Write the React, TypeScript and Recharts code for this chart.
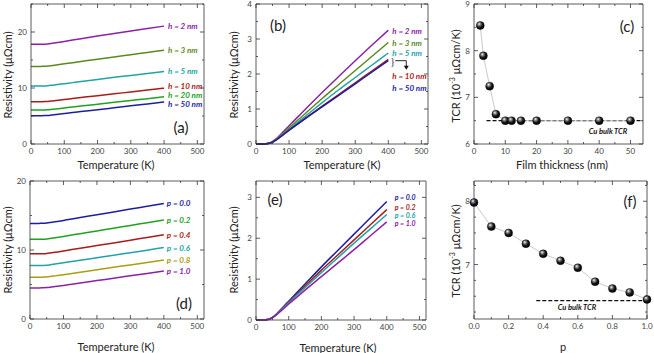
import React from 'react';
import { LineChart, ComposedChart, Line, XAxis, YAxis } from 'recharts';

const FONT = "Lato, 'Open Sans', 'DejaVu Sans', sans-serif";

// ---------- data ----------
// shared temperature grid (K)
const temps = [0, 20, 30, 40, 50, 60, 75, 100, 125, 150, 200, 250, 300, 350, 400];

// panel (a): total resistivity vs temperature for film thickness h
const rhoA_h2 = [17.8, 17.8, 17.81, 17.83, 17.87, 17.94, 18.08, 18.32, 18.56, 18.8, 19.27, 19.73, 20.18, 20.62, 21.05];
const rhoA_h3 = [13.85, 13.85, 13.86, 13.87, 13.91, 13.98, 14.1, 14.31, 14.52, 14.73, 15.15, 15.55, 15.95, 16.35, 16.75];
const rhoA_h5 = [10.35, 10.35, 10.36, 10.37, 10.41, 10.47, 10.58, 10.77, 10.96, 11.15, 11.53, 11.9, 12.25, 12.6, 12.95];
const rhoA_h10 = [7.55, 7.55, 7.56, 7.57, 7.61, 7.66, 7.77, 7.95, 8.12, 8.29, 8.63, 8.96, 9.3, 9.63, 9.97];
const rhoA_h20 = [6.05, 6.05, 6.06, 6.07, 6.1, 6.16, 6.26, 6.44, 6.61, 6.78, 7.11, 7.44, 7.77, 8.1, 8.45];
const rhoA_h50 = [5.05, 5.05, 5.06, 5.07, 5.1, 5.16, 5.27, 5.45, 5.63, 5.8, 6.13, 6.47, 6.81, 7.15, 7.5];

// panel (b): phonon part of resistivity
const rhoB_h2 = [0, 0, 0.006, 0.025, 0.07, 0.14, 0.28, 0.52, 0.76, 1.0, 1.47, 1.93, 2.38, 2.82, 3.25];
const rhoB_h3 = [0, 0, 0.006, 0.023, 0.063, 0.125, 0.25, 0.46, 0.67, 0.88, 1.3, 1.7, 2.1, 2.5, 2.9];
const rhoB_h5 = [0, 0, 0.005, 0.021, 0.058, 0.115, 0.23, 0.42, 0.61, 0.8, 1.18, 1.55, 1.9, 2.25, 2.6];
const rhoB_h10 = [0, 0, 0.005, 0.02, 0.056, 0.112, 0.215, 0.4, 0.57, 0.74, 1.08, 1.41, 1.75, 2.08, 2.42];
const rhoB_h50 = [0, 0, 0.005, 0.02, 0.055, 0.11, 0.21, 0.39, 0.56, 0.73, 1.06, 1.39, 1.72, 2.05, 2.38];

// panel (c): TCR vs film thickness
const thickness = [2, 3, 5, 7, 10, 12, 15, 20, 30, 40, 50];
const tcrThickness = [8.54, 7.89, 7.24, 6.64, 6.5, 6.5, 6.5, 6.5, 6.5, 6.5, 6.5];
const bulkRangeC = [4, 54];
const bulkTcrC = [6.5, 6.5];

// panel (d): total resistivity vs temperature for specularity p
const rhoD_p00 = [13.85, 13.85, 13.86, 13.87, 13.91, 13.97, 14.08, 14.29, 14.5, 14.7, 15.12, 15.52, 15.93, 16.34, 16.75];
const rhoD_p02 = [11.55, 11.55, 11.56, 11.57, 11.61, 11.67, 11.78, 11.97, 12.17, 12.37, 12.77, 13.16, 13.56, 13.95, 14.35];
const rhoD_p04 = [9.45, 9.45, 9.46, 9.47, 9.51, 9.57, 9.67, 9.86, 10.06, 10.25, 10.64, 11.03, 11.42, 11.81, 12.2];
const rhoD_p06 = [7.75, 7.75, 7.76, 7.77, 7.8, 7.86, 7.96, 8.14, 8.33, 8.51, 8.88, 9.24, 9.61, 9.98, 10.35];
const rhoD_p08 = [6.05, 6.05, 6.06, 6.07, 6.1, 6.15, 6.25, 6.42, 6.6, 6.78, 7.13, 7.49, 7.84, 8.2, 8.55];
const rhoD_p10 = [4.5, 4.5, 4.51, 4.52, 4.55, 4.6, 4.7, 4.87, 5.05, 5.22, 5.57, 5.91, 6.26, 6.61, 6.95];

// panel (e): phonon part vs p
const rhoE_p00 = [0, 0, 0.006, 0.023, 0.063, 0.125, 0.25, 0.46, 0.67, 0.88, 1.3, 1.7, 2.1, 2.5, 2.9];
const rhoE_p02 = [0, 0, 0.005, 0.022, 0.06, 0.12, 0.24, 0.44, 0.63, 0.83, 1.22, 1.59, 1.96, 2.33, 2.7];
const rhoE_p06 = [0, 0, 0.005, 0.021, 0.058, 0.115, 0.23, 0.42, 0.61, 0.79, 1.16, 1.52, 1.88, 2.23, 2.58];
const rhoE_p10 = [0, 0, 0.005, 0.02, 0.055, 0.11, 0.21, 0.39, 0.56, 0.73, 1.06, 1.39, 1.72, 2.06, 2.4];

// panel (f): TCR vs p
const pValues = [0, 0.1, 0.2, 0.3, 0.4, 0.5, 0.6, 0.7, 0.8, 0.9, 1.0];
const tcrP = [7.98, 7.6, 7.5, 7.33, 7.17, 7.06, 6.95, 6.73, 6.62, 6.56, 6.45];
const bulkRangeF = [0.36, 1.0];
const bulkTcrF = [6.43, 6.43];

// ticks
const tempTicks = [0, 50, 100, 150, 200, 250, 300, 350, 400, 450, 500];
const tempMajors = [0, 100, 200, 300, 400, 500];
const yTicksA = [0, 5, 10, 15, 20, 25];
const yMajorsA = [0, 10, 20];
const yTicksB = [0, 0.5, 1, 1.5, 2, 2.5, 3, 3.5, 4];
const yMajorsB = [0, 1, 2, 3, 4];
const xTicksC = [0, 5, 10, 15, 20, 25, 30, 35, 40, 45, 50];
const xMajorsC = [0, 10, 20, 30, 40, 50];
const yTicksC = [6, 6.5, 7, 7.5, 8, 8.5, 9];
const yMajorsC = [6, 7, 8, 9];
const yTicksD = [0, 5, 10, 15, 20];
const yMajorsD = [0, 10, 20];
const yTicksE = [0, 0.5, 1, 1.5, 2, 2.5, 3];
const yMajorsE = [0, 1, 2, 3];
const xTicksF = [0, 0.1, 0.2, 0.3, 0.4, 0.5, 0.6, 0.7, 0.8, 0.9, 1.0];
const xMajorsF = [0, 0.2, 0.4, 0.6, 0.8, 1.0];
const yTicksF = [6.25, 6.5, 6.75, 7, 7.25, 7.5, 7.75, 8, 8.25];
const yMajorsF = [7, 8];

// ---------- styling ----------
const C = {
  purple: '#8a22a6',
  olive: '#5c8a1e',
  teal: '#22a3a8',
  red: '#a81c1c',
  green: '#22a022',
  navy: '#1e1e9e',
  yellow: '#a8a010',
};

const LW = 28, RW = 6, TH = 4, BH = 20;

type Box = { x0: number; x1: number; y0: number; y1: number };
const boxA: Box = { x0: 31, x1: 204, y0: 4, y1: 144 };
const boxB: Box = { x0: 256, x1: 428, y0: 4, y1: 144 };
const boxC: Box = { x0: 474, x1: 643, y0: 4, y1: 144 };
const boxD: Box = { x0: 30, x1: 204, y0: 181, y1: 319 };
const boxE: Box = { x0: 256, x1: 426, y0: 181, y1: 320 };
const boxF: Box = { x0: 474, x1: 647, y0: 181, y1: 319 };

function chartPos(b: Box) {
  return {
    style: { position: 'absolute' as const, left: b.x0 - LW, top: b.y0 - TH },
    width: LW + (b.x1 - b.x0) + RW,
    height: TH + (b.y1 - b.y0) + BH,
  };
}

type Side = 'bottom' | 'top' | 'left' | 'right';
function makeTick(side: Side, majors: number[], fmt: (v: number) => string) {
  return (props: any) => {
    const { x, y, payload } = props;
    const v = Number(payload.value);
    const major = majors.some((m) => Math.abs(m - v) < 1e-6);
    const len = major ? 4 : 2;
    const st = { stroke: '#333', strokeWidth: 0.8 };
    const ts = { fontSize: 8, fill: '#444', fontFamily: FONT };
    let line: any = null;
    let label: any = null;
    if (side === 'bottom') {
      line = <line x1={x} y1={y} x2={x} y2={y - len} {...st} />;
      if (major) label = <text x={x} y={y + 7} textAnchor="middle" dominantBaseline="central" {...ts}>{fmt(v)}</text>;
    } else if (side === 'top') {
      line = <line x1={x} y1={y} x2={x} y2={y + len} {...st} />;
    } else if (side === 'left') {
      line = <line x1={x} y1={y} x2={x + len} y2={y} {...st} />;
      if (major) label = <text x={x - 4} y={y} textAnchor="end" dominantBaseline="central" {...ts}>{fmt(v)}</text>;
    } else {
      line = <line x1={x} y1={y} x2={x - len} y2={y} {...st} />;
    }
    return <g>{line}{label}</g>;
  };
}

type AxOpts = {
  xKey: string; xDomain: number[]; xTicks: number[]; xMajors: number[]; xFmt: (v: number) => string;
  yDomain: number[]; yTicks: number[]; yMajors: number[]; yFmt: (v: number) => string;
};
function frameAxes(o: AxOpts) {
  const axisLine = { stroke: '#333', strokeWidth: 0.8 };
  const common = { tickLine: false, tickSize: 0, tickMargin: 0, interval: 0 as const, axisLine };
  return [
    <XAxis key="xb" type="number" dataKey={o.xKey} domain={o.xDomain} ticks={o.xTicks} height={BH} orientation="bottom" tick={makeTick('bottom', o.xMajors, o.xFmt)} {...common} />,
    <XAxis key="xt" xAxisId="t" type="number" dataKey={o.xKey} domain={o.xDomain} ticks={o.xTicks} height={TH} orientation="top" allowDataOverflow tick={makeTick('top', o.xMajors, o.xFmt)} {...common} />,
    <YAxis key="yl" type="number" domain={o.yDomain} ticks={o.yTicks} width={LW} orientation="left" tick={makeTick('left', o.yMajors, o.yFmt)} {...common} />,
    <YAxis key="yr" yAxisId="r" type="number" domain={o.yDomain} ticks={o.yTicks} width={RW} orientation="right" allowDataOverflow tick={makeTick('right', o.yMajors, o.yFmt)} {...common} />,
  ];
}

const intFmt = (v: number) => String(Math.round(v));
const oneDec = (v: number) => v.toFixed(1);

function endLabel(text: string, color: string, n: number, dx: number, dy: number, size = 8, extra?: 'brace') {
  return (p: any) => {
    if (p.index !== n - 1) return <g key={`d${p.index}`} />;
    const x = p.cx, y = p.cy;
    return (
      <g key={`d${p.index}`}>
        <text x={x + dx} y={y + dy} fill={color} fontSize={size} fontWeight="bold" fontStyle="italic" dominantBaseline="central" fontFamily={FONT}>{text}</text>
        {extra === 'brace' ? (
          <g>
            <text x={x + 3} y={y + 1} fontSize={9} fill="#111" dominantBaseline="central" fontFamily={FONT}>{'}'}</text>
            <polyline points={`${x + 7},${y} ${x + 18},${y} ${x + 18},${y + 6}`} fill="none" stroke="#111" strokeWidth={0.9} />
            <polygon points={`${x + 15.5},${y + 5} ${x + 20.5},${y + 5} ${x + 18},${y + 9}`} fill="#111" />
          </g>
        ) : null}
      </g>
    );
  };
}

function rows(xs: number[], series: Record<string, number[]>, xKey = 'T') {
  return xs.map((x, i) => {
    const r: any = { [xKey]: x };
    for (const k of Object.keys(series)) r[k] = series[k][i];
    return r;
  });
}

const dataA = rows(temps, { h2: rhoA_h2, h3: rhoA_h3, h5: rhoA_h5, h10: rhoA_h10, h20: rhoA_h20, h50: rhoA_h50 });
const dataB = rows(temps, { h2: rhoB_h2, h3: rhoB_h3, h5: rhoB_h5, h10: rhoB_h10, h50: rhoB_h50 });
const dataC = rows(thickness, { tcr: tcrThickness }, 'x');
const bulkC = rows(bulkRangeC, { bulk: bulkTcrC }, 'x');
const dataD = rows(temps, { p00: rhoD_p00, p02: rhoD_p02, p04: rhoD_p04, p06: rhoD_p06, p08: rhoD_p08, p10: rhoD_p10 });
const dataE = rows(temps, { p00: rhoE_p00, p02: rhoE_p02, p06: rhoE_p06, p10: rhoE_p10 });
const dataF = rows(pValues, { tcr: tcrP }, 'x');
const bulkF = rows(bulkRangeF, { bulk: bulkTcrF }, 'x');

const seriesA = [
  { key: 'h2', label: 'h = 2 nm', color: C.purple, dy: 0 },
  { key: 'h3', label: 'h = 3 nm', color: C.olive, dy: 0 },
  { key: 'h5', label: 'h = 5 nm', color: C.teal, dy: 0 },
  { key: 'h10', label: 'h = 10 nm', color: C.red, dy: -2 },
  { key: 'h20', label: 'h = 20 nm', color: C.green, dy: -1.5 },
  { key: 'h50', label: 'h = 50 nm', color: C.navy, dy: 2 },
];
const seriesB = [
  { key: 'h2', label: 'h = 2 nm', color: C.purple, dy: 0.5 },
  { key: 'h3', label: 'h = 3 nm', color: C.olive, dy: 0.5 },
  { key: 'h5', label: 'h = 5 nm', color: C.teal, dy: -0.5 },
  { key: 'h10', label: 'h = 10 nm', color: C.red, dy: 16.5 },
  { key: 'h50', label: 'h = 50 nm', color: C.navy, dy: 27 },
];
const seriesD = [
  { key: 'p00', label: 'p = 0.0', color: C.navy, dy: 0 },
  { key: 'p02', label: 'p = 0.2', color: C.green, dy: 0 },
  { key: 'p04', label: 'p = 0.4', color: C.red, dy: 0 },
  { key: 'p06', label: 'p = 0.6', color: C.teal, dy: 0 },
  { key: 'p08', label: 'p = 0.8', color: C.yellow, dy: 0 },
  { key: 'p10', label: 'p = 1.0', color: C.purple, dy: 0 },
];
const seriesE = [
  { key: 'p00', label: 'p = 0.0', color: C.navy, dy: -4.5 },
  { key: 'p02', label: 'p = 0.2', color: C.red, dy: -3 },
  { key: 'p06', label: 'p = 0.6', color: C.teal, dy: 0.5 },
  { key: 'p10', label: 'p = 1.0', color: C.purple, dy: 1.5 },
];

const tempAxis = { xKey: 'T', xDomain: [0, 520], xTicks: tempTicks, xMajors: tempMajors, xFmt: intFmt };

const Sphere = (p: any) => (
  <circle key={`s${p.index}`} cx={p.cx} cy={p.cy} r={4} fill="url(#sphereGrad)" stroke="#000" strokeWidth={0.4} />
);

function AxisTitle({ x, y, rotate, children, size = 11 }: any) {
  return (
    <div
      style={{
        position: 'absolute', left: x, top: y, transform: `translate(-50%, -50%)${rotate ? ' rotate(-90deg)' : ''}`,
        whiteSpace: 'nowrap', fontFamily: FONT, fontSize: size, color: '#222', lineHeight: 1,
      }}
    >
      {children}
    </div>
  );
}

const tcrTitle = (
  <span>TCR (10<sup style={{ fontSize: 7, lineHeight: 0 }}>-3</sup> μΩcm/K)</span>
);

export default function App() {
  const margin = { top: 0, right: 0, bottom: 0, left: 0 };
  const pa = chartPos(boxA), pb = chartPos(boxB), pc = chartPos(boxC);
  const pd = chartPos(boxD), pe = chartPos(boxE), pf = chartPos(boxF);
  return (
    <div style={{ position: 'absolute', left: 0, top: 0, width: 654, height: 353, background: '#fff', overflow: 'hidden' }}>
      <svg width={0} height={0} style={{ position: 'absolute' }}>
        <defs>
          <radialGradient id="sphereGrad" cx="0.4" cy="0.38" r="0.62" fx="0.36" fy="0.3">
            <stop offset="0" stopColor="#ffffff" />
            <stop offset="0.22" stopColor="#9a9a9a" />
            <stop offset="0.6" stopColor="#1a1a1a" />
            <stop offset="1" stopColor="#000000" />
          </radialGradient>
        </defs>
      </svg>

      {/* (a) */}
      <div style={pa.style}>
        <LineChart width={pa.width} height={pa.height} data={dataA} margin={margin}>
          {frameAxes({ ...tempAxis, yDomain: [0, 25], yTicks: yTicksA, yMajors: yMajorsA, yFmt: intFmt })}
          {seriesA.map((s) => (
            <Line key={s.key} type="monotone" dataKey={s.key} stroke={s.color} strokeWidth={1.5}
              dot={endLabel(s.label, s.color, dataA.length, 4, s.dy)} activeDot={false} isAnimationActive={false} />
          ))}
        </LineChart>
      </div>

      {/* (b) */}
      <div style={pb.style}>
        <LineChart width={pb.width} height={pb.height} data={dataB} margin={margin}>
          {frameAxes({ ...tempAxis, yDomain: [0, 4], yTicks: yTicksB, yMajors: yMajorsB, yFmt: intFmt })}
          {seriesB.map((s) => (
            <Line key={s.key} type="monotone" dataKey={s.key} stroke={s.color} strokeWidth={1.5}
              dot={endLabel(s.label, s.color, dataB.length, 4, s.dy, 8, s.key === 'h50' ? 'brace' : undefined)}
              activeDot={false} isAnimationActive={false} />
          ))}
        </LineChart>
      </div>

      {/* (c) */}
      <div style={pc.style}>
        <ComposedChart width={pc.width} height={pc.height} data={dataC} margin={margin}>
          {frameAxes({ xKey: 'x', xDomain: [0, 54], xTicks: xTicksC, xMajors: xMajorsC, xFmt: intFmt, yDomain: [6, 9], yTicks: yTicksC, yMajors: yMajorsC, yFmt: intFmt })}
          <Line data={bulkC} type="linear" dataKey="bulk" stroke="#111" strokeWidth={1.3} strokeDasharray="4 2"
            dot={(p: any) => p.index === 1 ? (
              <text key="cb" x={p.cx - 35} y={p.cy + 11} textAnchor="middle" dominantBaseline="central" fontSize={7.5} fontWeight="bold" fontStyle="italic" fill="#111" fontFamily={FONT}>Cu bulk TCR</text>
            ) : <g key={`g${p.index}`} />}
            activeDot={false} isAnimationActive={false} />
          <Line type="linear" dataKey="tcr" stroke="#bbb" strokeWidth={0.8} dot={Sphere} activeDot={false} isAnimationActive={false} />
        </ComposedChart>
      </div>

      {/* (d) */}
      <div style={pd.style}>
        <LineChart width={pd.width} height={pd.height} data={dataD} margin={margin}>
          {frameAxes({ ...tempAxis, yDomain: [0, 20], yTicks: yTicksD, yMajors: yMajorsD, yFmt: intFmt })}
          {seriesD.map((s) => (
            <Line key={s.key} type="monotone" dataKey={s.key} stroke={s.color} strokeWidth={1.5}
              dot={endLabel(s.label, s.color, dataD.length, 3, s.dy)} activeDot={false} isAnimationActive={false} />
          ))}
        </LineChart>
      </div>

      {/* (e) */}
      <div style={pe.style}>
        <LineChart width={pe.width} height={pe.height} data={dataE} margin={margin}>
          {frameAxes({ ...tempAxis, yDomain: [0, 3.4], yTicks: yTicksE, yMajors: yMajorsE, yFmt: intFmt })}
          {seriesE.map((s) => (
            <Line key={s.key} type="monotone" dataKey={s.key} stroke={s.color} strokeWidth={1.5}
              dot={endLabel(s.label, s.color, dataE.length, 8, s.dy, 7)} activeDot={false} isAnimationActive={false} />
          ))}
        </LineChart>
      </div>

      {/* (f) */}
      <div style={pf.style}>
        <ComposedChart width={pf.width} height={pf.height} data={dataF} margin={margin}>
          {frameAxes({ xKey: 'x', xDomain: [0, 1], xTicks: xTicksF, xMajors: xMajorsF, xFmt: oneDec, yDomain: [6.14, 8.32], yTicks: yTicksF, yMajors: yMajorsF, yFmt: intFmt })}
          <Line data={bulkF} type="linear" dataKey="bulk" stroke="#111" strokeWidth={1.3} strokeDasharray="4 2"
            dot={(p: any) => p.index === 1 ? (
              <text key="fb" x={p.cx - 70} y={p.cy + 7} textAnchor="middle" dominantBaseline="central" fontSize={7.5} fontWeight="bold" fontStyle="italic" fill="#111" fontFamily={FONT}>Cu bulk TCR</text>
            ) : <g key={`g${p.index}`} />}
            activeDot={false} isAnimationActive={false} />
          <Line type="linear" dataKey="tcr" stroke="#bbb" strokeWidth={0.8} dot={Sphere} activeDot={false} isAnimationActive={false} />
        </ComposedChart>
      </div>

      {/* axis titles */}
      <AxisTitle x={7} y={75} rotate>Resistivity (μΩcm)</AxisTitle>
      <AxisTitle x={116} y={164}>Temperature (K)</AxisTitle>
      <AxisTitle x={233} y={75} rotate>Resistivity (μΩcm)</AxisTitle>
      <AxisTitle x={342} y={164}>Temperature (K)</AxisTitle>
      <AxisTitle x={455} y={76} rotate>{tcrTitle}</AxisTitle>
      <AxisTitle x={562} y={164}>Film thickness (nm)</AxisTitle>
      <AxisTitle x={7} y={250} rotate>Resistivity (μΩcm)</AxisTitle>
      <AxisTitle x={116} y={346}>Temperature (K)</AxisTitle>
      <AxisTitle x={233} y={250} rotate>Resistivity (μΩcm)</AxisTitle>
      <AxisTitle x={338} y={347}>Temperature (K)</AxisTitle>
      <AxisTitle x={455} y={251} rotate>{tcrTitle}</AxisTitle>
      <AxisTitle x={563} y={346}>p</AxisTitle>

      {/* panel letters */}
      <AxisTitle x={181} y={127} size={15}>(a)</AxisTitle>
      <AxisTitle x={278} y={25} size={15}>(b)</AxisTitle>
      <AxisTitle x={627} y={26} size={15}>(c)</AxisTitle>
      <AxisTitle x={184} y={303} size={15}>(d)</AxisTitle>
      <AxisTitle x={275} y={199} size={15}>(e)</AxisTitle>
      <AxisTitle x={630} y={201} size={15}>(f)</AxisTitle>
    </div>
  );
}
